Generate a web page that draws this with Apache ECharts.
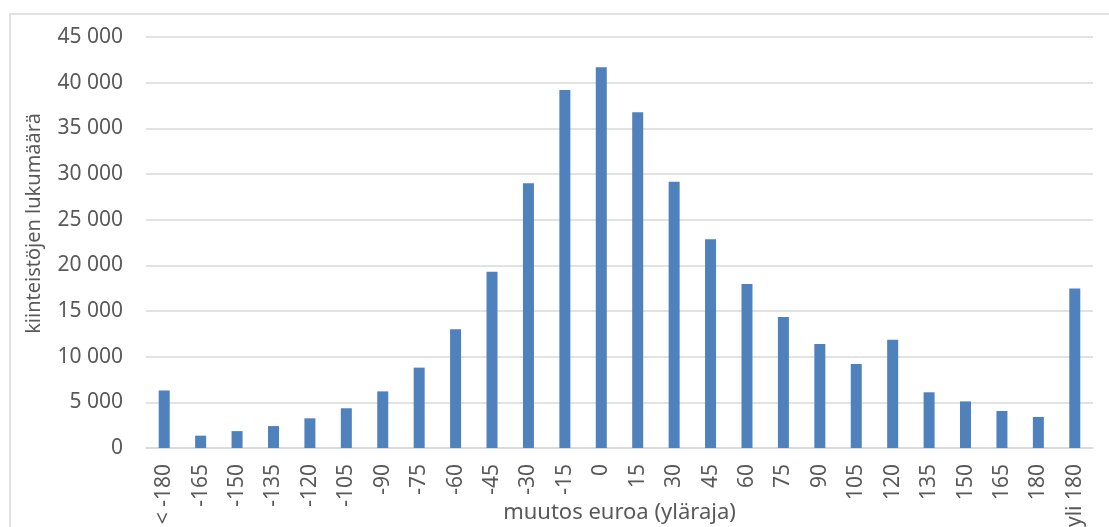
<!DOCTYPE html>
<html>
<head>
<meta charset="utf-8">
<script src="https://cdn.jsdelivr.net/npm/echarts@6/dist/echarts.min.js"></script>
<style>
html,body{margin:0;padding:0;background:#fff;}
#chart{width:1109px;height:527px;}
</style>
</head>
<body>
<div id="chart"></div>
<script>
const categories = ['< -180','-165','-150','-135','-120','-105','-90','-75','-60','-45','-30','-15','0','15','30','45','60','75','90','105','120','135','150','165','180','yli 180'];
const counts = [6300,1350,1850,2400,3250,4350,6200,8800,13000,19300,29000,39200,41700,36750,29150,22850,17950,14350,11400,9200,11850,6100,5100,4050,3400,17450];
const yMin = 0, yMax = 45000, yStep = 5000;
const xTitle = 'muutos euroa (yläraja)';
const yTitle = 'kiinteistöjen lukumäärä';

const FONT = '"Noto Sans", sans-serif';
const chart = echarts.init(document.getElementById('chart'), null, {renderer:'canvas'});
chart.setOption({
  animation:false,
  backgroundColor:'#fff',
  graphic:[{
    type:'rect', shape:{x:10,y:14,width:1200,height:600},
    style:{fill:'none',stroke:'#d9d9d9',lineWidth:1.5}, silent:true, z:-1
  }],
  grid:{left:146,right:16,top:37,bottom:79,containLabel:false,outerBoundsMode:'none'},
  xAxis:{
    type:'category', data:categories,
    name:xTitle, nameLocation:'middle', nameGap:54, nameMoveOverlap:false,
    nameTextStyle:{fontFamily:FONT,fontSize:22,color:'#595959',verticalAlign:'top'},
    axisLine:{show:true,lineStyle:{color:'#d9d9d9',width:1.5}},
    axisTick:{show:false},
    axisLabel:{rotate:90,interval:0,margin:16,fontFamily:FONT,fontSize:21,color:'#595959'}
  },
  yAxis:{
    type:'value', min:yMin, max:yMax, interval:yStep,
    name:yTitle, nameLocation:'middle', nameGap:102, nameRotate:90, nameMoveOverlap:false,
    nameTextStyle:{fontFamily:FONT,fontSize:20,color:'#595959',padding:[0,0,0,38]},
    axisLine:{show:false}, axisTick:{show:false},
    axisLabel:{margin:23,fontFamily:FONT,fontSize:21,color:'#595959',
      formatter:v=>String(v).replace(/\B(?=(\d{3})+(?!\d))/g,' ')},
    splitLine:{lineStyle:{color:'#d9d9d9',width:1.5}}
  },
  series:[{
    type:'bar', data:counts, barWidth:11,
    itemStyle:{color:'#4f81bd'}
  }]
});
</script>
</body>
</html>
